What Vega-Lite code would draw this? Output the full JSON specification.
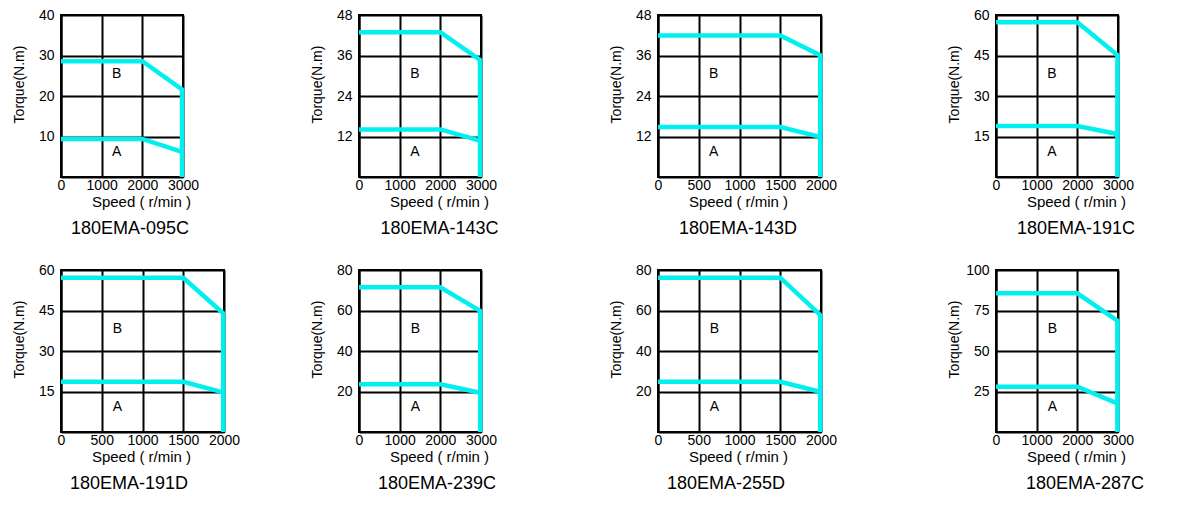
{
  "$schema": "https://vega.github.io/schema/vega-lite/v6.json",
  "padding": {"left": 10, "top": 7, "right": 5, "bottom": 5},
  "background": "white",
  "config": {
    "font": "Liberation Sans",
    "view": {"stroke": "black", "strokeWidth": 2},
    "axis": {
      "grid": true, "gridColor": "black", "gridWidth": 2, "gridOpacity": 1,
      "domainColor": "black", "domainWidth": 2, "ticks": false,
      "labelFont": "Liberation Sans", "labelFontSize": 14, "labelColor": "black",
      "titleFont": "Liberation Sans", "titleFontSize": 15, "titleFontWeight": "normal", "titleColor": "black",
      "labelFlush": false, "labelOverlap": false, "labelBound": false, "format": "d"
    },
    "axisX": {"labelPadding": 1, "titleX": 80, "titleY": 29, "titleBaseline": "alphabetic", "titleAlign": "center"},
    "axisY": {"labelPadding": 7, "titleX": -35, "titleY": 69, "titleAngle": -90, "titleBaseline": "bottom", "titleAlign": "center", "titleFontSize": 14},
    "title": {"font": "Liberation Sans", "fontSize": 18, "fontWeight": "normal", "color": "black", "offset": 11},
    "line": {"color": "#00F0F0", "strokeWidth": 4.5},
    "text": {"font": "Liberation Sans", "fontSize": 14, "color": "black"}
  },
  "datasets": {
    "d": [
      {"m": "095C", "k": "line", "c": "B", "i": 1, "s": 0, "t": 28.6},
      {"m": "095C", "k": "line", "c": "B", "i": 2, "s": 2000, "t": 28.6},
      {"m": "095C", "k": "line", "c": "B", "i": 3, "s": 2975, "t": 21.6},
      {"m": "095C", "k": "line", "c": "B", "i": 4, "s": 2975, "t": 0},
      {"m": "095C", "k": "line", "c": "A", "i": 1, "s": 0, "t": 9.4},
      {"m": "095C", "k": "line", "c": "A", "i": 2, "s": 2000, "t": 9.4},
      {"m": "095C", "k": "line", "c": "A", "i": 3, "s": 2975, "t": 6.2},
      {"m": "095C", "k": "label", "c": "B", "s": 1370, "t": 25.4},
      {"m": "095C", "k": "label", "c": "A", "s": 1370, "t": 6.2},

      {"m": "143C", "k": "line", "c": "B", "i": 1, "s": 0, "t": 42.9},
      {"m": "143C", "k": "line", "c": "B", "i": 2, "s": 2000, "t": 42.9},
      {"m": "143C", "k": "line", "c": "B", "i": 3, "s": 2975, "t": 34.7},
      {"m": "143C", "k": "line", "c": "B", "i": 4, "s": 2975, "t": 0},
      {"m": "143C", "k": "line", "c": "A", "i": 1, "s": 0, "t": 14.1},
      {"m": "143C", "k": "line", "c": "A", "i": 2, "s": 2000, "t": 14.1},
      {"m": "143C", "k": "line", "c": "A", "i": 3, "s": 2975, "t": 10.8},
      {"m": "143C", "k": "label", "c": "B", "s": 1377, "t": 30.5},
      {"m": "143C", "k": "label", "c": "A", "s": 1377, "t": 7.5},

      {"m": "143D", "k": "line", "c": "B", "i": 1, "s": 0, "t": 41.9},
      {"m": "143D", "k": "line", "c": "B", "i": 2, "s": 1500, "t": 41.9},
      {"m": "143D", "k": "line", "c": "B", "i": 3, "s": 1990, "t": 36.1},
      {"m": "143D", "k": "line", "c": "B", "i": 4, "s": 1990, "t": 0},
      {"m": "143D", "k": "line", "c": "A", "i": 1, "s": 0, "t": 14.8},
      {"m": "143D", "k": "line", "c": "A", "i": 2, "s": 1500, "t": 14.8},
      {"m": "143D", "k": "line", "c": "A", "i": 3, "s": 1990, "t": 11.9},
      {"m": "143D", "k": "label", "c": "B", "s": 683, "t": 30.5},
      {"m": "143D", "k": "label", "c": "A", "s": 683, "t": 7.5},

      {"m": "191C", "k": "line", "c": "B", "i": 1, "s": 0, "t": 57.3},
      {"m": "191C", "k": "line", "c": "B", "i": 2, "s": 2000, "t": 57.3},
      {"m": "191C", "k": "line", "c": "B", "i": 3, "s": 2985, "t": 45.2},
      {"m": "191C", "k": "line", "c": "B", "i": 4, "s": 2985, "t": 0},
      {"m": "191C", "k": "line", "c": "A", "i": 1, "s": 0, "t": 18.9},
      {"m": "191C", "k": "line", "c": "A", "i": 2, "s": 2000, "t": 18.9},
      {"m": "191C", "k": "line", "c": "A", "i": 3, "s": 2985, "t": 15.9},
      {"m": "191C", "k": "label", "c": "B", "s": 1377, "t": 38.1},
      {"m": "191C", "k": "label", "c": "A", "s": 1377, "t": 9.4},

      {"m": "191D", "k": "line", "c": "B", "i": 1, "s": 0, "t": 57.1},
      {"m": "191D", "k": "line", "c": "B", "i": 2, "s": 1500, "t": 57.1},
      {"m": "191D", "k": "line", "c": "B", "i": 3, "s": 1990, "t": 44.0},
      {"m": "191D", "k": "line", "c": "B", "i": 4, "s": 1990, "t": 0},
      {"m": "191D", "k": "line", "c": "A", "i": 1, "s": 0, "t": 18.6},
      {"m": "191D", "k": "line", "c": "A", "i": 2, "s": 1500, "t": 18.6},
      {"m": "191D", "k": "line", "c": "A", "i": 3, "s": 1990, "t": 14.7},
      {"m": "191D", "k": "label", "c": "B", "s": 691, "t": 38.1},
      {"m": "191D", "k": "label", "c": "A", "s": 691, "t": 9.4},

      {"m": "239C", "k": "line", "c": "B", "i": 1, "s": 0, "t": 71.5},
      {"m": "239C", "k": "line", "c": "B", "i": 2, "s": 2000, "t": 71.5},
      {"m": "239C", "k": "line", "c": "B", "i": 3, "s": 2980, "t": 59.8},
      {"m": "239C", "k": "line", "c": "B", "i": 4, "s": 2980, "t": 0},
      {"m": "239C", "k": "line", "c": "A", "i": 1, "s": 0, "t": 23.6},
      {"m": "239C", "k": "line", "c": "A", "i": 2, "s": 2000, "t": 23.6},
      {"m": "239C", "k": "line", "c": "A", "i": 3, "s": 2980, "t": 19.4},
      {"m": "239C", "k": "label", "c": "B", "s": 1387, "t": 50.9},
      {"m": "239C", "k": "label", "c": "A", "s": 1387, "t": 12.5},

      {"m": "255D", "k": "line", "c": "B", "i": 1, "s": 0, "t": 76.2},
      {"m": "255D", "k": "line", "c": "B", "i": 2, "s": 1500, "t": 76.2},
      {"m": "255D", "k": "line", "c": "B", "i": 3, "s": 1990, "t": 57.8},
      {"m": "255D", "k": "line", "c": "B", "i": 4, "s": 1990, "t": 0},
      {"m": "255D", "k": "line", "c": "A", "i": 1, "s": 0, "t": 24.8},
      {"m": "255D", "k": "line", "c": "A", "i": 2, "s": 1500, "t": 24.8},
      {"m": "255D", "k": "line", "c": "A", "i": 3, "s": 1990, "t": 19.9},
      {"m": "255D", "k": "label", "c": "B", "s": 691, "t": 50.9},
      {"m": "255D", "k": "label", "c": "A", "s": 691, "t": 12.5},

      {"m": "287C", "k": "line", "c": "B", "i": 1, "s": 0, "t": 85.6},
      {"m": "287C", "k": "line", "c": "B", "i": 2, "s": 2000, "t": 85.6},
      {"m": "287C", "k": "line", "c": "B", "i": 3, "s": 2985, "t": 68.7},
      {"m": "287C", "k": "line", "c": "B", "i": 4, "s": 2985, "t": 0},
      {"m": "287C", "k": "line", "c": "A", "i": 1, "s": 0, "t": 28.0},
      {"m": "287C", "k": "line", "c": "A", "i": 2, "s": 2000, "t": 28.0},
      {"m": "287C", "k": "line", "c": "A", "i": 3, "s": 2985, "t": 17.7},
      {"m": "287C", "k": "label", "c": "B", "s": 1385, "t": 63.6},
      {"m": "287C", "k": "label", "c": "A", "s": 1385, "t": 15.6}
    ],
    "empty": []
  },
  "columns": 7,
  "bounds": "flush",
  "spacing": {"row": 93, "column": 0},
  "concat": [
    {
      "width": 122, "height": 162,
      "title": {"text": "180EMA-095C", "orient": "bottom", "dx": 8},
      "data": {"name": "d"},
      "transform": [{"filter": "datum.m == '095C'"}],
      "encoding": {
        "x": {"field": "s", "type": "quantitative", "scale": {"domain": [0, 3000], "nice": false}, "axis": {"values": [0, 1000, 2000, 3000], "title": "Speed ( r/min )"}},
        "y": {"field": "t", "type": "quantitative", "scale": {"domain": [0, 40], "nice": false}, "axis": {"values": [10, 20, 30, 40], "title": "Torque(N.m)"}}
      },
      "layer": [
        {"transform": [{"filter": "datum.k == 'line'"}], "mark": {"type": "line"}, "encoding": {"detail": {"field": "c"}, "order": {"field": "i"}}},
        {"transform": [{"filter": "datum.k == 'label'"}], "mark": {"type": "text"}, "encoding": {"text": {"field": "c"}}}
      ]
    },
    {"width": 135, "height": 162, "view": {"stroke": null}, "data": {"name": "empty"}, "mark": "point"},
    {
      "width": 122, "height": 162,
      "title": {"text": "180EMA-143C", "orient": "bottom", "dx": 19.5},
      "data": {"name": "d"},
      "transform": [{"filter": "datum.m == '143C'"}],
      "encoding": {
        "x": {"field": "s", "type": "quantitative", "scale": {"domain": [0, 3000], "nice": false}, "axis": {"values": [0, 1000, 2000, 3000], "title": "Speed ( r/min )"}},
        "y": {"field": "t", "type": "quantitative", "scale": {"domain": [0, 48], "nice": false}, "axis": {"values": [12, 24, 36, 48], "title": "Torque(N.m)"}}
      },
      "layer": [
        {"transform": [{"filter": "datum.k == 'line'"}], "mark": {"type": "line"}, "encoding": {"detail": {"field": "c"}, "order": {"field": "i"}}},
        {"transform": [{"filter": "datum.k == 'label'"}], "mark": {"type": "text"}, "encoding": {"text": {"field": "c"}}}
      ]
    },
    {"width": 177, "height": 162, "view": {"stroke": null}, "data": {"name": "empty"}, "mark": "point"},
    {
      "width": 163, "height": 162,
      "title": {"text": "180EMA-143D", "orient": "bottom", "dx": -1.5},
      "data": {"name": "d"},
      "transform": [{"filter": "datum.m == '143D'"}],
      "encoding": {
        "x": {"field": "s", "type": "quantitative", "scale": {"domain": [0, 2000], "nice": false}, "axis": {"values": [0, 500, 1000, 1500, 2000], "title": "Speed ( r/min )"}},
        "y": {"field": "t", "type": "quantitative", "scale": {"domain": [0, 48], "nice": false}, "axis": {"values": [12, 24, 36, 48], "title": "Torque(N.m)"}}
      },
      "layer": [
        {"transform": [{"filter": "datum.k == 'line'"}], "mark": {"type": "line"}, "encoding": {"detail": {"field": "c"}, "order": {"field": "i"}}},
        {"transform": [{"filter": "datum.k == 'label'"}], "mark": {"type": "text"}, "encoding": {"text": {"field": "c"}}}
      ]
    },
    {"width": 175, "height": 162, "view": {"stroke": null}, "data": {"name": "empty"}, "mark": "point"},
    {
      "width": 122, "height": 162,
      "title": {"text": "180EMA-191C", "orient": "bottom", "dx": 19},
      "data": {"name": "d"},
      "transform": [{"filter": "datum.m == '191C'"}],
      "encoding": {
        "x": {"field": "s", "type": "quantitative", "scale": {"domain": [0, 3000], "nice": false}, "axis": {"values": [0, 1000, 2000, 3000], "title": "Speed ( r/min )"}},
        "y": {"field": "t", "type": "quantitative", "scale": {"domain": [0, 60], "nice": false}, "axis": {"values": [15, 30, 45, 60], "title": "Torque(N.m)"}}
      },
      "layer": [
        {"transform": [{"filter": "datum.k == 'line'"}], "mark": {"type": "line"}, "encoding": {"detail": {"field": "c"}, "order": {"field": "i"}}},
        {"transform": [{"filter": "datum.k == 'label'"}], "mark": {"type": "text"}, "encoding": {"text": {"field": "c"}}}
      ]
    },
    {
      "width": 163, "height": 162,
      "title": {"text": "180EMA-191D", "orient": "bottom", "dx": -13.5},
      "data": {"name": "d"},
      "transform": [{"filter": "datum.m == '191D'"}],
      "encoding": {
        "x": {"field": "s", "type": "quantitative", "scale": {"domain": [0, 2000], "nice": false}, "axis": {"values": [0, 500, 1000, 1500, 2000], "title": "Speed ( r/min )"}},
        "y": {"field": "t", "type": "quantitative", "scale": {"domain": [0, 60], "nice": false}, "axis": {"values": [15, 30, 45, 60], "title": "Torque(N.m)"}}
      },
      "layer": [
        {"transform": [{"filter": "datum.k == 'line'"}], "mark": {"type": "line"}, "encoding": {"detail": {"field": "c"}, "order": {"field": "i"}}},
        {"transform": [{"filter": "datum.k == 'label'"}], "mark": {"type": "text"}, "encoding": {"text": {"field": "c"}}}
      ]
    },
    {"width": 135, "height": 162, "view": {"stroke": null}, "data": {"name": "empty"}, "mark": "point"},
    {
      "width": 122, "height": 162,
      "title": {"text": "180EMA-239C", "orient": "bottom", "dx": 17},
      "data": {"name": "d"},
      "transform": [{"filter": "datum.m == '239C'"}],
      "encoding": {
        "x": {"field": "s", "type": "quantitative", "scale": {"domain": [0, 3000], "nice": false}, "axis": {"values": [0, 1000, 2000, 3000], "title": "Speed ( r/min )"}},
        "y": {"field": "t", "type": "quantitative", "scale": {"domain": [0, 80], "nice": false}, "axis": {"values": [20, 40, 60, 80], "title": "Torque(N.m)"}}
      },
      "layer": [
        {"transform": [{"filter": "datum.k == 'line'"}], "mark": {"type": "line"}, "encoding": {"detail": {"field": "c"}, "order": {"field": "i"}}},
        {"transform": [{"filter": "datum.k == 'label'"}], "mark": {"type": "text"}, "encoding": {"text": {"field": "c"}}}
      ]
    },
    {"width": 177, "height": 162, "view": {"stroke": null}, "data": {"name": "empty"}, "mark": "point"},
    {
      "width": 163, "height": 162,
      "title": {"text": "180EMA-255D", "orient": "bottom", "dx": -13.5},
      "data": {"name": "d"},
      "transform": [{"filter": "datum.m == '255D'"}],
      "encoding": {
        "x": {"field": "s", "type": "quantitative", "scale": {"domain": [0, 2000], "nice": false}, "axis": {"values": [0, 500, 1000, 1500, 2000], "title": "Speed ( r/min )"}},
        "y": {"field": "t", "type": "quantitative", "scale": {"domain": [0, 80], "nice": false}, "axis": {"values": [20, 40, 60, 80], "title": "Torque(N.m)"}}
      },
      "layer": [
        {"transform": [{"filter": "datum.k == 'line'"}], "mark": {"type": "line"}, "encoding": {"detail": {"field": "c"}, "order": {"field": "i"}}},
        {"transform": [{"filter": "datum.k == 'label'"}], "mark": {"type": "text"}, "encoding": {"text": {"field": "c"}}}
      ]
    },
    {"width": 175, "height": 162, "view": {"stroke": null}, "data": {"name": "empty"}, "mark": "point"},
    {
      "width": 122, "height": 162,
      "title": {"text": "180EMA-287C", "orient": "bottom", "dx": 28},
      "data": {"name": "d"},
      "transform": [{"filter": "datum.m == '287C'"}],
      "encoding": {
        "x": {"field": "s", "type": "quantitative", "scale": {"domain": [0, 3000], "nice": false}, "axis": {"values": [0, 1000, 2000, 3000], "title": "Speed ( r/min )"}},
        "y": {"field": "t", "type": "quantitative", "scale": {"domain": [0, 100], "nice": false}, "axis": {"values": [25, 50, 75, 100], "title": "Torque(N.m)"}}
      },
      "layer": [
        {"transform": [{"filter": "datum.k == 'line'"}], "mark": {"type": "line"}, "encoding": {"detail": {"field": "c"}, "order": {"field": "i"}}},
        {"transform": [{"filter": "datum.k == 'label'"}], "mark": {"type": "text"}, "encoding": {"text": {"field": "c"}}}
      ]
    }
  ]
}
